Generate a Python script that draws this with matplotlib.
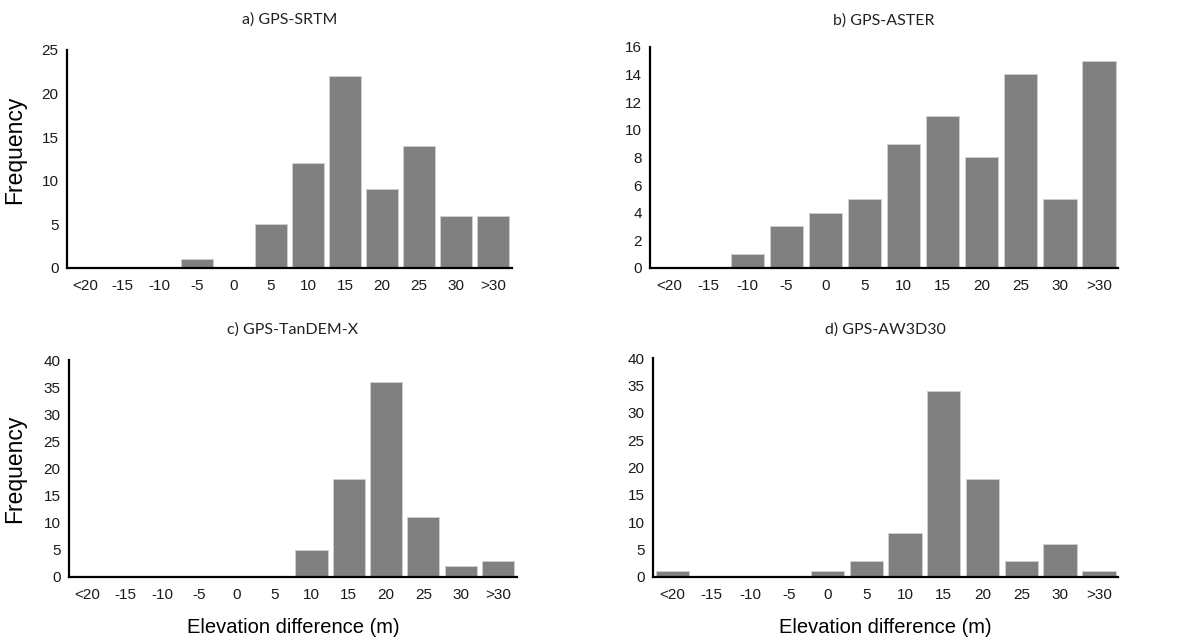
import numpy as np
import matplotlib
matplotlib.use("Agg")
import matplotlib.pyplot as plt

bins = ['<20', '-15', '-10', '-5', '0', '5', '10', '15', '20', '25', '30', '>30']

srtm = [0, 0, 0, 1, 0, 5, 12, 22, 9, 14, 6, 6]
aster = [0, 0, 1, 3, 4, 5, 9, 11, 8, 14, 5, 15]
tandemx = [0, 0, 0, 0, 0, 0, 5, 18, 36, 11, 2, 3]
aw3d30 = [1, 0, 0, 0, 1, 3, 8, 34, 18, 3, 6, 1]

titles = ['a) GPS-SRTM', 'b) GPS-ASTER', 'c) GPS-TanDEM-X', 'd) GPS-AW3D30']
series = [srtm, aster, tandemx, aw3d30]
ymax = [25, 16, 40, 40]
ystep = [5, 2, 5, 5]
title_pad = [19, 16, 19, 18]

# axes boxes in figure fraction [left, bottom, width, height]
boxes = [
    [0.056, 0.582, 0.372, 0.340],
    [0.5435, 0.582, 0.3915, 0.345],
    [0.0577, 0.100, 0.3743, 0.338],
    [0.546, 0.100, 0.389, 0.341],
]

plt.rcParams['font.family'] = ['Liberation Sans', 'DejaVu Sans']

fig = plt.figure(figsize=(11.96, 6.41), dpi=100)

for i in range(4):
    ax = fig.add_axes(boxes[i])
    x = np.arange(len(bins))
    ax.bar(x, series[i], width=0.86, color='#808080', edgecolor='#d0d0d0', linewidth=0.6)
    ax.set_xlim(-0.5, len(bins) - 0.5)
    ax.set_ylim(0, ymax[i])
    ax.set_yticks(np.arange(0, ymax[i] + 1, ystep[i]))
    ax.set_xticks(x)
    ax.set_xticklabels(bins)
    ax.tick_params(axis='both', length=0, labelsize=11, colors='#1a1a1a')
    ax.tick_params(axis='x', pad=8)
    ax.tick_params(axis='y', pad=6)
    for s in ['top', 'right']:
        ax.spines[s].set_visible(False)
    for s in ['left', 'bottom']:
        ax.spines[s].set_linewidth(1.6)
        ax.spines[s].set_color('black')
    ax.set_title(titles[i], fontsize=11.5, family=['Lato', 'DejaVu Sans'], color='#222222', pad=title_pad[i])
    if i == 0:
        ax.set_ylabel('Frequency', fontsize=16.5)
        ax.yaxis.set_label_coords(-0.092, 0.54)
    if i == 2:
        ax.set_ylabel('Frequency', fontsize=16.5)
        ax.yaxis.set_label_coords(-0.096, 0.5)
    if i in (2, 3):
        ax.set_xlabel('Elevation difference (m)', fontsize=14.5)
        ax.xaxis.set_label_coords(0.5, -0.19)

fig.savefig('out.png', dpi=100)
